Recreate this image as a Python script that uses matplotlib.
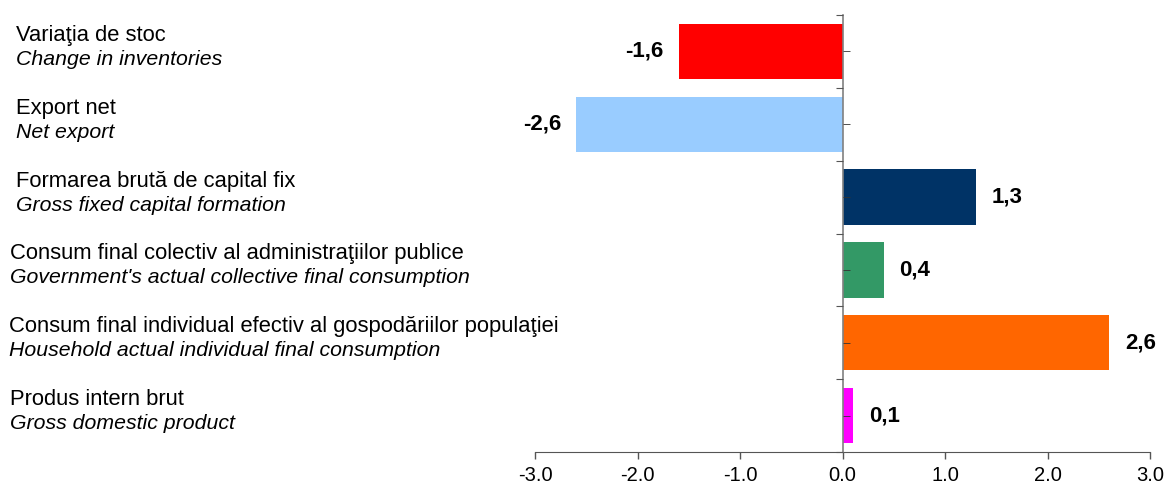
import numpy as np
import matplotlib
matplotlib.use("Agg")
import matplotlib.pyplot as plt
from matplotlib.ticker import FixedLocator

plt.rcParams["font.family"] = ["Liberation Sans", "DejaVu Sans"]

# data, top to bottom
labels_ro = [
    "Variaţia de stoc",
    "Export net",
    "Formarea brută de capital fix",
    "Consum final colectiv al administraţiilor publice",
    "Consum final individual efectiv al gospodăriilor populaţiei",
    "Produs intern brut",
]
labels_en = [
    "Change in inventories",
    "Net export",
    "Gross fixed capital formation",
    "Government's actual collective final consumption",
    "Household actual individual final consumption",
    "Gross domestic product",
]
values = [-1.6, -2.6, 1.3, 0.4, 2.6, 0.1]
colors = ["#FF0000", "#99CCFF", "#003366", "#339966", "#FF6600", "#FF00FF"]
xticks = [-3.0, -2.0, -1.0, 0.0, 1.0, 2.0, 3.0]

W, H = 1167, 484
fig = plt.figure(figsize=(W / 100, H / 100), dpi=100)
ax = fig.add_axes([535 / W, 1 - 452 / H, (1150 - 535) / W, (452 - 15) / H])

ypos = np.arange(len(values))
ax.barh(ypos, values, height=0.76, color=colors, zorder=1)

ax.set_xlim(-3, 3)
ax.set_ylim(len(values) - 0.5, -0.5)

# axes styling
for s in ["top", "right"]:
    ax.spines[s].set_visible(False)
ax.spines["left"].set_position(("data", 0))
ax.spines["left"].set_color("#808080")
ax.spines["left"].set_linewidth(1.2)
ax.spines["left"].set_zorder(3)
ax.spines["bottom"].set_color("#555555")

ax.set_xticks(xticks)
ax.set_xticklabels([f"{t:.1f}" for t in xticks], fontsize=14.5)
ax.tick_params(axis="x", length=5, width=1, color="#555555", pad=5)

ax.yaxis.set_major_locator(FixedLocator(np.arange(-0.5, len(values), 1.0)))
ax.yaxis.set_minor_locator(FixedLocator(ypos))
ax.set_yticklabels([])
ax.tick_params(axis="y", which="major", direction="out", length=5, color="#555555")
ax.tick_params(axis="y", which="minor", direction="in", length=5, color="#333333")
ax.yaxis.set_zorder(3)

# value labels
for y, v in zip(ypos, values):
    off = 16 if v >= 0 else -15
    ax.annotate(f"{v:.1f}".replace(".", ","), xy=(v, y), xytext=(off, 0),
                textcoords="offset pixels", ha="left" if v >= 0 else "right",
                va="center", fontsize=16, fontweight="bold")

# category labels on the left
xlab = [16, 16, 16, 10, 9, 10]
for y, ro, en, xl in zip(ypos, labels_ro, labels_en, xlab):
    ax.annotate(ro, xy=(xl / W, y), xycoords=("figure fraction", "data"),
                xytext=(0, 16), textcoords="offset pixels",
                ha="left", va="center", fontsize=15.8)
    ax.annotate(en, xy=(xl / W, y), xycoords=("figure fraction", "data"),
                xytext=(0, -8), textcoords="offset pixels",
                ha="left", va="center", fontsize=15.3, style="italic")

fig.savefig("out.png", dpi=100)
